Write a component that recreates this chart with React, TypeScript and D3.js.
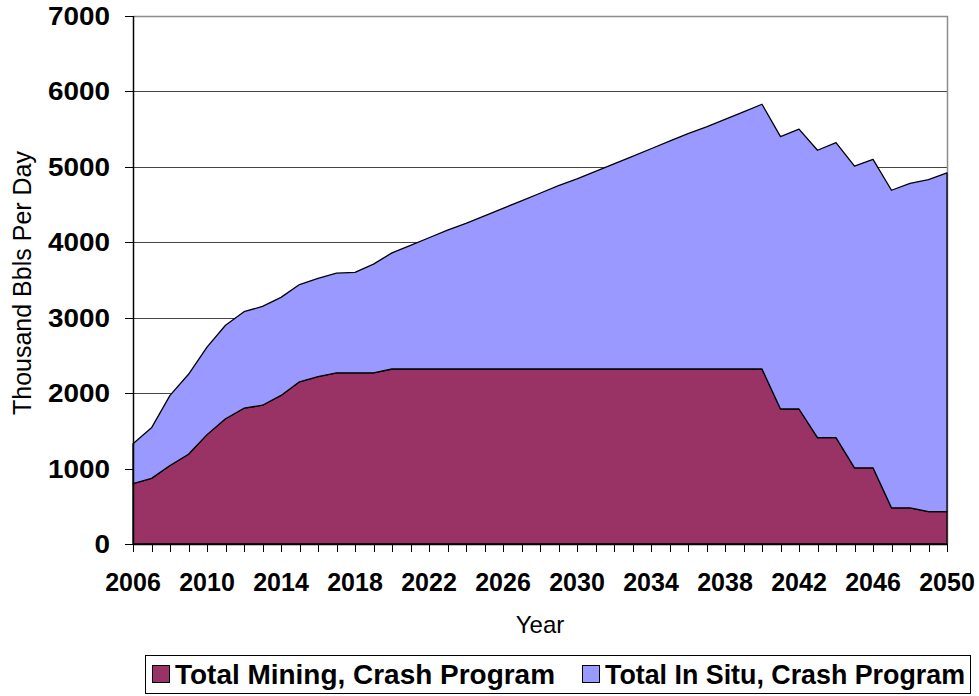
import React, { useEffect, useRef } from 'react';
import * as d3 from 'd3';

const years = d3.range(2006, 2051);
const tickYears = [2006, 2010, 2014, 2018, 2022, 2026, 2030, 2034, 2038, 2042, 2046, 2050];
const yTicks = [0, 1000, 2000, 3000, 4000, 5000, 6000, 7000];

const mining = [
  800, 870, 1040, 1190, 1450, 1660, 1800, 1840, 1970, 2150, 2220, 2270, 2270, 2270, 2320,
  2320, 2320, 2320, 2320, 2320, 2320, 2320, 2320, 2320, 2320,
  2320, 2320, 2320, 2320, 2320, 2320, 2320, 2320, 2320, 2320,
  1790, 1790, 1410, 1410, 1010, 1010, 480, 480, 430, 430,
];
const inSitu = [
  530, 670, 930, 1060, 1160, 1240, 1280, 1310, 1300, 1290, 1300, 1320, 1330, 1440, 1540,
  1640, 1740, 1840, 1930, 2030, 2130, 2230, 2330, 2430, 2520,
  2620, 2720, 2820, 2920, 3020, 3120, 3210, 3310, 3410, 3510,
  3610, 3710, 3810, 3910, 4000, 4090, 4210, 4300, 4400, 4490,
];

const seriesNames = ['Total Mining, Crash Program', 'Total In Situ, Crash Program'];
const seriesColors = ['#993366', '#9999FF'];

const W = 979;
const H = 696;
const plot = { left: 133, right: 947, top: 16, bottom: 544 };
const font = 'Arial, "Liberation Sans", sans-serif';

export default function App() {
  const node = useRef<SVGSVGElement | null>(null);

  useEffect(() => {
    const svg = d3.select(node.current);
    svg.selectAll('*').remove();

    const x = d3.scaleLinear().domain([2006, 2050]).range([plot.left, plot.right]);
    const y = d3.scaleLinear().domain([0, 7000]).range([plot.bottom, plot.top]);

    const rows = years.map((yr, i) => ({ year: yr, mining: mining[i], inSitu: inSitu[i] }));
    const stacked = d3.stack<any>().keys(['mining', 'inSitu'])(rows);

    // gridlines
    svg.append('g')
      .selectAll('line')
      .data(yTicks.filter(t => t > 0 && t < 7000))
      .enter().append('line')
      .attr('x1', plot.left).attr('x2', plot.right)
      .attr('y1', d => Math.round(y(d)) + 0.5).attr('y2', d => Math.round(y(d)) + 0.5)
      .attr('stroke', '#444').attr('stroke-width', 1);

    // plot border (top / right)
    svg.append('path')
      .attr('d', `M${plot.left},${plot.top + 0.5}H${plot.right + 0.5}V${plot.bottom}`)
      .attr('fill', 'none').attr('stroke', '#8c8c8c').attr('stroke-width', 1.5);

    const area = d3.area<any>()
      .x(d => x(d.data.year))
      .y0(d => y(d[0]))
      .y1(d => y(d[1]));

    svg.append('g')
      .selectAll('path')
      .data(stacked)
      .enter().append('path')
      .attr('d', area)
      .attr('fill', (d, i) => seriesColors[i])
      .attr('stroke', '#000')
      .attr('stroke-width', 1.3)
      .attr('stroke-linejoin', 'round');

    // y axis
    const yAxis = svg.append('g');
    yAxis.append('line')
      .attr('x1', plot.left + 0.5).attr('x2', plot.left + 0.5)
      .attr('y1', plot.top).attr('y2', plot.bottom)
      .attr('stroke', '#000').attr('stroke-width', 1.5);
    yAxis.selectAll('.tick')
      .data(yTicks)
      .enter().append('line')
      .attr('x1', plot.left - 8).attr('x2', plot.left)
      .attr('y1', d => Math.round(y(d)) + 0.5).attr('y2', d => Math.round(y(d)) + 0.5)
      .attr('stroke', '#000');
    yAxis.selectAll('text')
      .data(yTicks)
      .enter().append('text')
      .attr('x', 110)
      .attr('y', d => y(d))
      .attr('dy', '0.36em')
      .attr('text-anchor', 'end')
      .attr('font-family', font)
      .attr('font-weight', 'bold')
      .attr('font-size', 25)
      .attr('textLength', d => String(d).length * 15.5)
      .attr('lengthAdjust', 'spacingAndGlyphs')
      .text(d => d);

    // x axis
    const xAxis = svg.append('g');
    xAxis.append('line')
      .attr('x1', plot.left).attr('x2', plot.right + 0.5)
      .attr('y1', plot.bottom + 0.5).attr('y2', plot.bottom + 0.5)
      .attr('stroke', '#000').attr('stroke-width', 1.5);
    xAxis.selectAll('.tick')
      .data(years)
      .enter().append('line')
      .attr('x1', d => Math.round(x(d)) + 0.5).attr('x2', d => Math.round(x(d)) + 0.5)
      .attr('y1', plot.bottom).attr('y2', plot.bottom + 8)
      .attr('stroke', '#000');
    xAxis.selectAll('text')
      .data(tickYears)
      .enter().append('text')
      .attr('x', d => x(d))
      .attr('y', 591)
      .attr('text-anchor', 'middle')
      .attr('font-family', font)
      .attr('font-weight', 'bold')
      .attr('font-size', 25)
      .text(d => d);

    // axis titles
    svg.append('text')
      .attr('x', (plot.left + plot.right) / 2)
      .attr('y', 633)
      .attr('text-anchor', 'middle')
      .attr('font-family', font)
      .attr('font-size', 24)
      .text('Year');
    svg.append('text')
      .attr('transform', `translate(31,283) rotate(-90)`)
      .attr('text-anchor', 'middle')
      .attr('font-family', font)
      .attr('font-size', 25)
      .text('Thousand Bbls Per Day');

    // legend
    const legend = svg.append('g');
    legend.append('rect')
      .attr('x', 145.5).attr('y', 655.5)
      .attr('width', 825).attr('height', 38)
      .attr('fill', '#fff').attr('stroke', '#000');
    const items = legend.selectAll('.item')
      .data(seriesNames)
      .enter().append('g')
      .attr('transform', (d, i) => `translate(${i === 0 ? 152 : 582},0)`);
    items.append('rect')
      .attr('x', 0.5).attr('y', 665.5)
      .attr('width', 17).attr('height', 17)
      .attr('fill', (d, i) => seriesColors[i])
      .attr('stroke', '#000');
    items.append('text')
      .attr('x', 23).attr('y', 684)
      .attr('font-family', font)
      .attr('font-weight', 'bold')
      .attr('font-size', 27)
      .attr('textLength', (d, i) => (i === 0 ? 380 : 360))
      .attr('lengthAdjust', 'spacingAndGlyphs')
      .text(d => d);
  }, []);

  return (
    <svg
      ref={node}
      width={W}
      height={H}
      style={{ position: 'absolute', left: 0, top: 0, background: '#fff' }}
    />
  );
}
